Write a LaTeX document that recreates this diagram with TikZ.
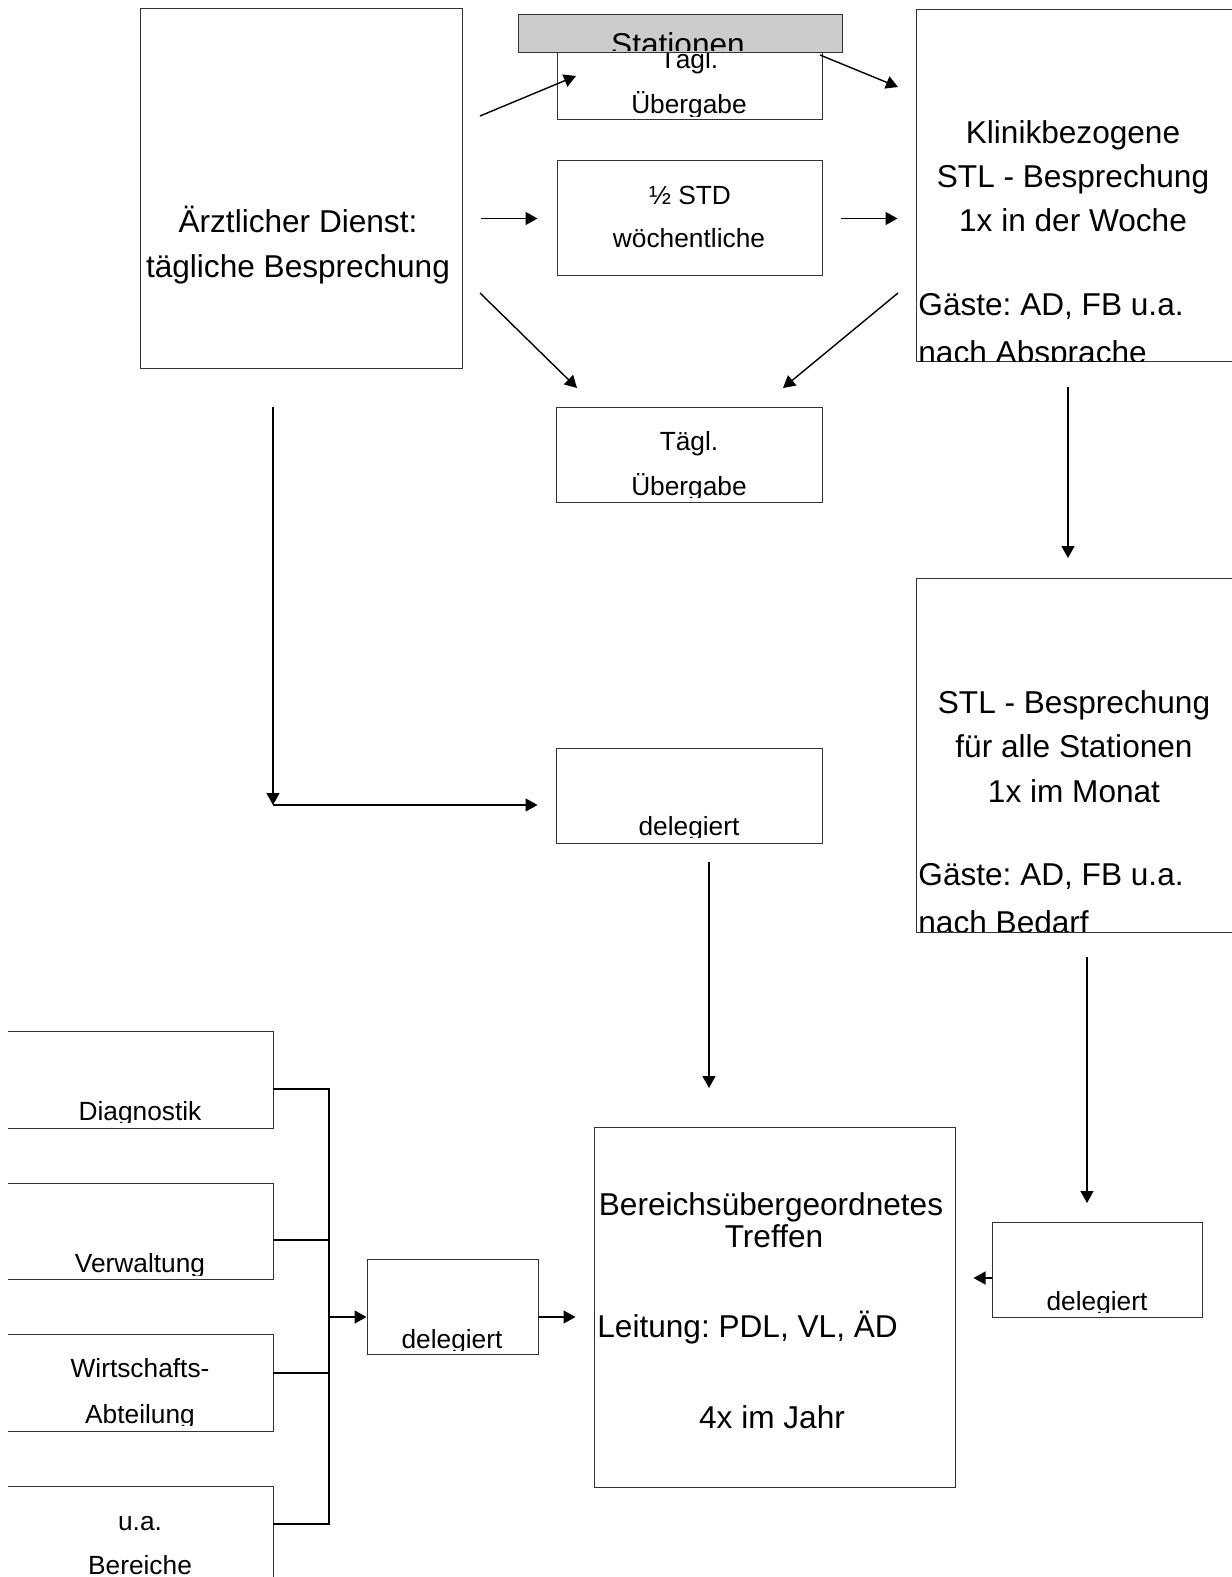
\documentclass[tikz,border=0pt]{standalone}
\usepackage{fontspec}
\setmainfont{Liberation Sans}
\frenchspacing
\usetikzlibrary{arrows.meta,fit}
\tikzset{
  box/.style={draw=black!80, line width=0.5pt, inner sep=0pt},
  arr/.style={-{Triangle[length=6pt,width=6.5pt]}, line width=0.7pt},
  bus/.style={line width=1.2pt},
  big/.style={font=\fontsize{15.8}{19}\selectfont, anchor=base, inner sep=0pt},
  small/.style={font=\fontsize{13.15}{16}\selectfont, anchor=base, inner sep=0pt},
}

\begin{document}
\begin{tikzpicture}[x=0.5pt,y=-0.5pt]
\useasboundingbox (0,0) rectangle (1231,1577);

% upper block
\node[box, fit={(140,9) (462,369)}] (arzt) {};
\node[big] at (298,233) {Ärztlicher Dienst:};
\node[big] at (298,278) {tägliche Besprechung};

\node[box, fit={(557,40) (822,120)}] (uebA) {};
\begin{scope}
  \clip (uebA.north west) rectangle ([yshift=2pt]uebA.south east);
  \node[small] at (689,69) {Tägl.};
  \node[small] at (689,114) {Übergabe};
\end{scope}

\node[box, fill=black!20, fit={(518,15) (842,53)}] (stat) {};
\begin{scope}
  \clip (stat.north west) rectangle ([yshift=1.5pt]stat.south east);
  \node[big] at (678,56) {Stationen};
\end{scope}

\node[box, fit={(557,161) (822,276)}] (halb) {};
\node[small] at (690,205) {½ STD};
\node[small] at (689,248) {wöchentliche};

\node[box, fit={(556,408) (822,502)}] (uebB) {};
\begin{scope}
  \clip (uebB.north west) rectangle ([yshift=2.5pt]uebB.south east);
  \node[small] at (689,451) {Tägl.};
  \node[small] at (689,495) {Übergabe};
\end{scope}

\node[box, fit={(916,10) (1236,362)}] (klinik) {};
\begin{scope}
  \clip (klinik.north west) rectangle ([yshift=0.5pt]klinik.south east);
  \node[big] at (1073,144) {Klinikbezogene};
  \node[big] at (1073,188) {STL - Besprechung};
  \node[big] at (1073,232) {1x in der Woche};
  \node[big, anchor=base west] at (918,316) {Gäste: AD, FB u.a.};
  \node[big, anchor=base west] at (918,364) {nach Absprache};
\end{scope}

% middle block
\node[box, fit={(916,578) (1236,932)}] (stlall) {};
\begin{scope}
  \clip (stlall.north west) rectangle ([yshift=0.5pt]stlall.south east);
  \node[big] at (1074,713) {STL - Besprechung};
  \node[big] at (1074,757) {für alle Stationen};
  \node[big] at (1074,802) {1x im Monat};
  \node[big, anchor=base west] at (918,885) {Gäste: AD, FB u.a.};
  \node[big, anchor=base west] at (918,933) {nach Bedarf};
\end{scope}

\node[box, fit={(556,748) (822,843)}] (delegM) {};
\begin{scope}
  \clip (delegM.north west) rectangle ([yshift=3pt]delegM.south east);
  \node[small] at (689,835) {delegiert};
\end{scope}

% lower block
\node[box, fit={(594,1127) (955,1487)}] (bereich) {};
\node[big] at (771,1215) {Bereichsübergeordnetes};
\node[big] at (774,1247) {Treffen};
\node[big, anchor=base west] at (597,1337) {Leitung: PDL, VL, ÄD};
\node[big] at (772,1428) {4x im Jahr};

\node[box, fit={(992,1222) (1202,1317)}] (delegR) {};
\begin{scope}
  \clip (delegR.north west) rectangle ([yshift=2.5pt]delegR.south east);
  \node[small] at (1097,1310) {delegiert};
\end{scope}

\node[box, fit={(367,1259) (538,1354)}] (delegL) {};
\begin{scope}
  \clip (delegL.north west) rectangle ([yshift=2pt]delegL.south east);
  \node[small] at (452,1348) {delegiert};
\end{scope}

% departments, open to the left
\node[inner sep=0pt, fit={(8,1032) (273,1128)}] (diag) {};
\node[inner sep=0pt, fit={(8,1184) (273,1279)}] (verw) {};
\node[inner sep=0pt, fit={(8,1335) (273,1431)}] (wirt) {};
\node[inner sep=0pt, fit={(8,1487) (273,1600)}] (uabe) {};
\foreach \n in {diag,verw,wirt,uabe}{
  \draw[box] (\n.north west) -- (\n.north east) -- (\n.south east) -- (\n.south west);
}
\begin{scope}
  \clip (diag.north west) rectangle ([yshift=3pt]diag.south east);
  \node[small] at (140,1120) {Diagnostik};
\end{scope}
\begin{scope}
  \clip (verw.north west) rectangle ([yshift=2pt]verw.south east);
  \node[small] at (140,1272) {Verwaltung};
\end{scope}
\begin{scope}
  \clip (wirt.north west) rectangle ([yshift=3pt]wirt.south east);
  \node[small] at (140,1377) {Wirtschafts-};
  \node[small] at (140,1423) {Abteilung};
\end{scope}
\node[small] at (140,1530) {u.a.};
\node[small] at (140,1574) {Bereiche};

% connectors
\coordinate (a1) at (480,116);  \coordinate (a1e) at (576,76);
\coordinate (a2) at (820,55);   \coordinate (a2e) at (898,87);
\coordinate (a3) at (480,293);  \coordinate (a3e) at (577,388);
\coordinate (a4) at (898,293);  \coordinate (a4e) at (783,388);
\coordinate (dn) at (273,407);  \coordinate (knee) at (273,805);
\coordinate (m1) at (709,862);  \coordinate (m1e) at (709,1088);
\coordinate (k1) at (1068,387); \coordinate (k1e) at (1068,558);
\coordinate (s1) at (1087,957); \coordinate (s1e) at (1087,1203);
\coordinate (rin) at (992,1278);
\coordinate (bus) at (329,1317);

\draw[arr] (a1) -- (a1e);
\draw[arr] (a2) -- (a2e);
\draw[arr] (a3) -- (a3e);
\draw[arr] (a4) -- (a4e);
\draw[arr, shorten <=9pt, shorten >=9.5pt] (arzt.east |- halb.west) -- (halb.west);
\draw[arr, shorten <=9pt, shorten >=9pt] (halb.east) -- (halb.east -| klinik.west);
\draw[arr] (dn) -- (knee);
\draw[arr, shorten >=9pt] (knee) -- (knee -| delegM.west);
\draw[arr] (m1) -- (m1e);
\draw[arr] (k1) -- (k1e);
\draw[arr] (s1) -- (s1e);
\draw[arr, shorten >=9pt] (rin) -- (rin -| bereich.east);

\draw[bus] (diag.east |- 0,1089) -| (bus |- 0,1524) -- (uabe.east |- 0,1524);
\foreach \n/\y in {verw/1240,wirt/1373}{
  \draw[bus] (\n.east |- 0,\y) -- (bus |- 0,\y);
}
\draw[arr] (bus) -- (bus -| delegL.west);
\draw[arr, shorten >=9pt] (delegL.east |- bus) -- (bereich.west |- bus);
\end{tikzpicture}
\end{document}
